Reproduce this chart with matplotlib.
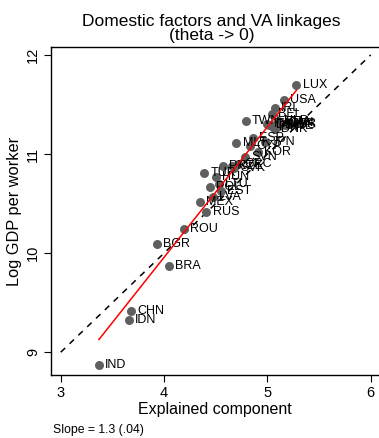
import numpy as np
import matplotlib
matplotlib.use("Agg")
import matplotlib.pyplot as plt

plt.rcParams['font.family'] = ['Liberation Sans', 'DejaVu Sans']

# country codes, explained component, log GDP per worker
codes = ["LUX", "USA", "IRL", "BEL", "NLD", "FRA", "AUT", "DEU", "DNK", "SWE",
         "FIN", "ITA", "GBR", "CAN", "AUS", "TWN", "ESP", "JPN", "MLT", "CYP",
         "KOR", "SVN", "GRC", "PRT", "CZE", "SVK", "TUR", "HUN", "LTU", "POL",
         "EST", "LVA", "MEX", "RUS", "ROU", "BGR", "BRA", "CHN", "IDN", "IND"]
explained = [5.28, 5.16, 5.07, 5.04, 5.10, 5.12, 5.08, 5.02, 5.07, 5.11,
             5.05, 5.00, 5.15, 5.13, 5.17, 4.79, 4.86, 4.98, 4.70, 4.83,
             4.91, 4.78, 4.72, 4.57, 4.66, 4.68, 4.39, 4.50, 4.53, 4.44,
             4.55, 4.47, 4.35, 4.41, 4.19, 3.93, 4.05, 3.68, 3.66, 3.37]
log_gdp = [11.70, 11.55, 11.46, 11.40, 11.33, 11.32, 11.30, 11.29, 11.25, 11.28,
           11.27, 11.30, 11.30, 11.31, 11.29, 11.33, 11.16, 11.12, 11.11, 11.08,
           11.02, 10.97, 10.90, 10.88, 10.88, 10.86, 10.81, 10.77, 10.70, 10.67,
           10.63, 10.57, 10.52, 10.41, 10.24, 10.09, 9.87, 9.42, 9.33, 8.87]

x = np.array(explained)
y = np.array(log_gdp)

fig = plt.figure(figsize=(3.79, 4.38), dpi=100)
ax = fig.add_axes([0.1346, 0.1438, 0.8654, 0.7489])

# 45 degree reference line
ref = np.array([3, 6])
ax.plot(ref, ref + 6, color="black", linestyle=(0, (4, 4)), linewidth=1.1, zorder=1)

ax.scatter(x, y, s=42, color="#5f5f5f", zorder=2, linewidths=0)
for c, xi, yi in zip(codes, x, y):
    ax.annotate(c, (xi, yi), xytext=(4.5, 0), textcoords="offset points",
                ha="left", va="center", fontsize=9, zorder=3)

# OLS fit over the range of the data
b, a = np.polyfit(x, y, 1)
xf = np.array([x.min(), x.max()])
ax.plot(xf, a + b * xf, color="red", linewidth=1.1, zorder=4)

ax.set_xlim(2.906, 6.08)
ax.set_ylim(8.77, 12.08)
ax.set_xticks([3, 4, 5, 6])
ax.set_yticks([9, 10, 11, 12])
ax.tick_params(direction="out", length=5, width=0.8, labelsize=10.5, pad=3)
plt.setp(ax.get_yticklabels(), rotation=90, va="center")
ax.spines["right"].set_visible(False)
for s in ["left", "bottom", "top"]:
    ax.spines[s].set_linewidth(1.0)

ax.set_xlabel("Explained component", fontsize=11.5, labelpad=1)
ax.set_ylabel("Log GDP per worker", fontsize=11.8, labelpad=3)
ax.set_title("Domestic factors and VA linkages\n(theta -> 0)", fontsize=12.5,
             linespacing=0.95, pad=5, x=0.49)

fig.text(0.14, 0.012, "Slope = 1.3 (.04)", fontsize=8.8)

fig.savefig("out.png", dpi=100)
